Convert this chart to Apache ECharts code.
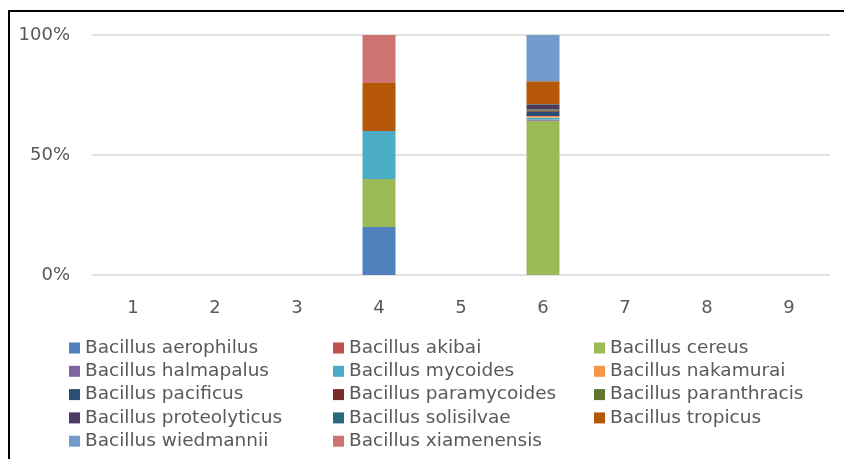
<!DOCTYPE html>
<html>
<head>
<meta charset="utf-8">
<script src="https://cdn.jsdelivr.net/npm/echarts@6/dist/echarts.min.js"></script>
<style>
  html, body { margin: 0; padding: 0; background: #fff; }
  #chart { width: 844px; height: 459px; }
</style>
</head>
<body>
<div id="chart"></div>
<script>
// samples on the x axis
const categories = ['1', '2', '3', '4', '5', '6', '7', '8', '9'];
const yTicks = [0, 50, 100];

// relative abundance (%) per species, one value per sample
const aerophilus    = [0, 0, 0, 20, 0, 0, 0, 0, 0];
const akibai        = [0, 0, 0, 0, 0, 0, 0, 0, 0];
const cereus        = [0, 0, 0, 20, 0, 64.3, 0, 0, 0];
const halmapalus    = [0, 0, 0, 0, 0, 0.5, 0, 0, 0];
const mycoides      = [0, 0, 0, 20, 0, 0.8, 0, 0, 0];
const nakamurai     = [0, 0, 0, 0, 0, 0.6, 0, 0, 0];
const pacificus     = [0, 0, 0, 0, 0, 1.8, 0, 0, 0];
const paramycoides  = [0, 0, 0, 0, 0, 0.4, 0, 0, 0];
const paranthracis  = [0, 0, 0, 0, 0, 0.6, 0, 0, 0];
const proteolyticus = [0, 0, 0, 0, 0, 1.8, 0, 0, 0];
const solisilvae    = [0, 0, 0, 0, 0, 0.3, 0, 0, 0];
const tropicus      = [0, 0, 0, 20, 0, 9.6, 0, 0, 0];
const wiedmannii    = [0, 0, 0, 0, 0, 19.3, 0, 0, 0];
const xiamenensis   = [0, 0, 0, 20, 0, 0, 0, 0, 0];

const species = [
  ['Bacillus aerophilus', aerophilus, '#4F81BD'],
  ['Bacillus akibai', akibai, '#C0504D'],
  ['Bacillus cereus', cereus, '#9BBB59'],
  ['Bacillus halmapalus', halmapalus, '#8064A2'],
  ['Bacillus mycoides', mycoides, '#4BACC6'],
  ['Bacillus nakamurai', nakamurai, '#F79646'],
  ['Bacillus pacificus', pacificus, '#2C4D75'],
  ['Bacillus paramycoides', paramycoides, '#772C2A'],
  ['Bacillus paranthracis', paranthracis, '#5F7530'],
  ['Bacillus proteolyticus', proteolyticus, '#4D3B62'],
  ['Bacillus solisilvae', solisilvae, '#276A7C'],
  ['Bacillus tropicus', tropicus, '#B65708'],
  ['Bacillus wiedmannii', wiedmannii, '#729ACA'],
  ['Bacillus xiamenensis', xiamenensis, '#CD7371']
];

const chart = echarts.init(document.getElementById('chart'), null, { renderer: 'canvas' });

const font = 'DejaVu Sans';
const textColor = '#595959';

// legend is laid out in 3 columns, row-major like the original
const legendCols = [0, 1, 2].map(c => species.filter((s, i) => i % 3 === c).map(s => s[0]));
const legendLeft = [69, 333, 594];

const option = {
  backgroundColor: '#fff',
  animation: false,
  grid: { left: 92, right: 14, top: 35, bottom: 184 },
  xAxis: {
    type: 'category',
    data: categories,
    axisLine: { show: false },
    axisTick: { show: false },
    axisLabel: { color: textColor, fontFamily: font, fontSize: 18, margin: 24 }
  },
  yAxis: {
    type: 'value',
    min: 0,
    max: 100,
    interval: 50,
    axisLine: { show: false },
    axisTick: { show: false },
    axisLabel: {
      color: textColor, fontFamily: font, fontSize: 18, margin: 22,
      formatter: v => (yTicks.includes(v) ? v + '%' : '')
    },
    splitLine: { lineStyle: { color: '#d9d9d9', width: 1.5 } }
  },
  legend: legendCols.map((names, i) => ({
    orient: 'vertical',
    left: legendLeft[i],
    top: 338,
    padding: 0,
    data: names,
    icon: 'rect',
    itemWidth: 11,
    itemHeight: 11,
    itemGap: 3.3,
    selectedMode: false,
    textStyle: { color: textColor, fontFamily: font, fontSize: 18.5, lineHeight: 20 }
  })),
  series: species.map(([name, values, color]) => ({
    name,
    type: 'bar',
    stack: 'total',
    barWidth: 33,
    itemStyle: { color },
    data: values
  })),
  graphic: [{
    type: 'rect',
    shape: { x: 9, y: 11, width: 900, height: 500 },
    style: { fill: 'none', stroke: '#000', lineWidth: 2 },
    silent: true
  }]
};

chart.setOption(option);
</script>
</body>
</html>
